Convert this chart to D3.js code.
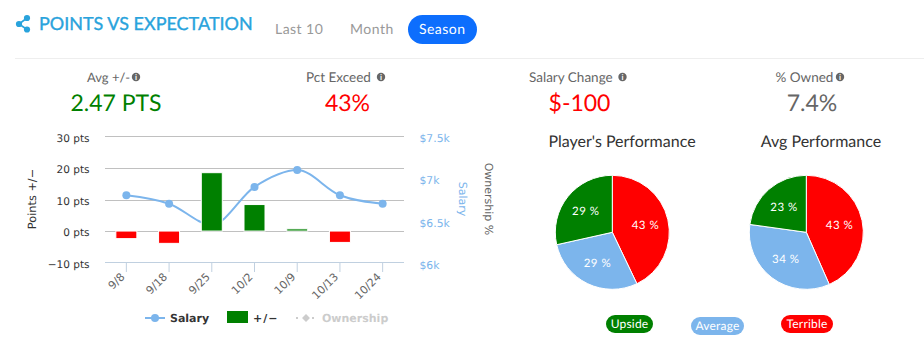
<!DOCTYPE html>
<html><head><meta charset="utf-8">
<script src="https://cdn.jsdelivr.net/npm/d3@7/dist/d3.min.js"></script>
<style>
html,body{margin:0;padding:0;background:#fff}
svg{display:block}
text{font-family:Lato,sans-serif;text-rendering:geometricPrecision}
.hc{font-family:"DejaVu Sans",sans-serif}
</style></head><body><svg id="c" width="924" height="355"></svg>
<script>
const dates = ["9/8","9/18","9/25","10/2","10/9","10/13","10/24"];
const salary = [6800,6700,6450,6900,7100,6800,6700];
const plusMinus = [-2.4,-3.9,18.5,8.4,0.7,-3.6,null];
const ptsTicks = [-10,0,10,20,30];
const salaryTicks = [6000,6500,7000,7500];
const pieCats = ["Terrible","Average","Upside"];
const playerPie = [42.9,28.6,28.5];
const avgPie = [43.4,33.8,22.8];
const pieColors = ["#ff0000","#7cb5ec","#008000"];

const svg = d3.select("#c");
const GREEN="#008000", RED="#ff0000", BLUE="#7cb5ec";

function T(x,y,s,o={}){
  const t=svg.append("text").attr("x",x).attr("y",y).text(s)
    .attr("font-size",o.size||14).attr("fill",o.fill||"#333")
    .attr("text-anchor",o.anchor||"start");
  if(o.ls)t.attr("letter-spacing",o.ls);
  if(o.weight)t.attr("font-weight",o.weight);
  if(o.cls)t.attr("class",o.cls);
  if(o.sw)t.attr("stroke",o.fill).attr("stroke-width",o.sw);
  if(o.rot!==undefined)t.attr("transform",`rotate(${o.rot} ${x} ${y})`);
  return t;
}
// header
const ic=svg.append("g").attr("stroke","#29a3dc").attr("fill","#29a3dc");
[[27,18],[19,24],[27,29.5]].forEach(p=>ic.append("circle").attr("cx",p[0]).attr("cy",p[1]).attr("r",3.1).attr("stroke","none"));
ic.append("path").attr("d","M27 18L19 24L27 29.5").attr("fill","none").attr("stroke-width",1.6);
T(39,30,"POINTS VS EXPECTATION",{size:18,fill:"#29a3dc",weight:400,sw:.35});
T(275,34,"Last 10",{size:14,fill:"#999",ls:.45});
T(350,34,"Month",{size:14,fill:"#999",ls:.5});
svg.append("rect").attr("x",408).attr("y",15).attr("width",69).attr("height",29).attr("rx",14.5).attr("fill","#0d6efd");
T(419,34,"Season",{size:14,fill:"#fff",ls:.45});
svg.append("line").attr("x1",15).attr("x2",924).attr("y1",58.5).attr("y2",58.5).attr("stroke","#eee");

// stats
function info(x,y){
  svg.append("circle").attr("cx",x).attr("cy",y).attr("r",4.2).attr("fill","#666");
  T(x,y+3,"i",{size:8,fill:"#fff",anchor:"middle",weight:700});
}
T(87,82,"Avg +/-",{size:13,fill:"#666"});info(136,77);
T(306,82,"Pct Exceed",{size:13.5,fill:"#666"});info(381,77);
T(529,82,"Salary Change",{size:13.5,fill:"#666"});info(622.5,77);
T(775.5,82,"% Owned",{size:13.5,fill:"#666"});info(840,77);
T(116,111,"2.47 PTS",{size:23,fill:GREEN,anchor:"middle"});
T(347.5,111,"43%",{size:23,fill:RED,anchor:"middle"});
T(579.5,111,"$-100",{size:23,fill:RED,anchor:"middle"});
T(812,111,"7.4%",{size:23,fill:"#666",anchor:"middle"});
T(622,147,"Player's Performance",{size:16,anchor:"middle"});
T(821,147,"Avg Performance",{size:16,anchor:"middle"});

// combo chart
const x=d3.scaleBand().domain(dates).range([105,404]);
const cx=d=>x(d)+x.bandwidth()/2;
const y=d3.scaleLinear().domain([-10,30]).range([262.6,136.4]);
const ys=d3.scaleLinear().domain([6000,7500]).range([262.6,136.4]);
const g=svg.append("g");
ptsTicks.filter(t=>t!==-10).forEach(t=>g.append("line").attr("x1",105).attr("x2",404)
  .attr("y1",Math.round(y(t))+.5).attr("y2",Math.round(y(t))+.5).attr("stroke","#c0c0c0"));
const xa=d3.axisBottom(x).tickSize(10).tickPadding(6);
const ax=svg.append("g").attr("transform","translate(0,262)").call(xa);
ax.select(".domain").attr("stroke","#c0d0e0").attr("d","M105,0.5H404");
ax.selectAll(".tick line").attr("stroke","#c0d0e0");
ax.selectAll(".tick text").attr("class","hc").attr("font-size",11).attr("fill","#666")
  .attr("text-anchor","end").attr("dy",0).attr("y",0)
  .attr("transform","translate(-1,15.5) rotate(-45)");
const ya=d3.axisLeft(y).tickValues(ptsTicks).tickSize(0).tickPadding(0).tickFormat(d=>(d<0?"\u2212"+(-d):d)+" pts");
const ay=svg.append("g").attr("transform","translate(89.5,1.5)").call(ya);
ay.select(".domain").remove();
ay.selectAll("text").attr("class","hc").attr("font-size",10.5).attr("fill","#333");
const yb=d3.axisRight(ys).tickValues(salaryTicks).tickSize(0).tickPadding(0).tickFormat(d=>"$"+(d/1000)+"k");
const ab=svg.append("g").attr("transform","translate(419.5,2)").call(yb);
ab.select(".domain").remove();
ab.selectAll("text").attr("class","hc").attr("font-size",10.8).attr("fill",BLUE);
T(36,199,"Points +/\u2212",{cls:"hc",size:11.3,anchor:"middle",rot:-90});
T(458.5,199,"Salary",{cls:"hc",size:11,fill:BLUE,anchor:"middle",rot:90});
T(484.5,199,"Ownership %",{cls:"hc",size:11,fill:"#666",anchor:"middle",rot:90});

const line=d3.line().x((d,i)=>cx(dates[i])).y(d=>ys(d)).curve(d3.curveMonotoneX);
svg.append("path").attr("d",line(salary)).attr("fill","none").attr("stroke",BLUE).attr("stroke-width",2);
svg.selectAll(".pt").data(salary).enter().append("circle").attr("class","pt")
  .attr("cx",(d,i)=>cx(dates[i])).attr("cy",d=>ys(d)).attr("r",4).attr("fill",BLUE);
svg.selectAll(".bar").data(plusMinus.map((v,i)=>({v,d:dates[i]})).filter(d=>d.v!==null)).enter().append("rect")
  .attr("x",d=>cx(d.d)-10.5).attr("width",21)
  .attr("y",d=>Math.min(y(0),y(d.v))).attr("height",d=>Math.abs(y(d.v)-y(0)))
  .attr("fill",d=>d.v<0?RED:GREEN).attr("stroke","#fff").attr("stroke-width",1);

// chart legend
svg.append("line").attr("x1",145).attr("x2",165).attr("y1",318).attr("y2",318).attr("stroke",BLUE).attr("stroke-width",2);
svg.append("circle").attr("cx",155).attr("cy",318).attr("r",4).attr("fill",BLUE);
T(170,322,"Salary",{cls:"hc",size:11,weight:700,fill:"#333"});
svg.append("rect").attr("x",227).attr("y",311).attr("width",21).attr("height",12).attr("fill",GREEN);
T(253,322,"+/\u2212",{cls:"hc",size:11,weight:700,ls:1});
svg.append("line").attr("x1",296).attr("x2",315).attr("y1",318).attr("y2",318).attr("stroke","#ccc").attr("stroke-width",2).attr("stroke-dasharray","2 6");
svg.append("path").attr("d",d3.symbol(d3.symbolDiamond2,40)).attr("transform","translate(306,318)").attr("fill","#ccc");
T(322,322,"Ownership",{cls:"hc",size:11,weight:700,fill:"#ccc"});

// pies
function pie(cxp,vals){
  const p=d3.pie().sort(null)(vals);
  const a=d3.arc().innerRadius(0).outerRadius(57);
  const la=d3.arc().innerRadius(34).outerRadius(34);
  const gp=svg.append("g").attr("transform",`translate(${cxp},232.3)`);
  gp.selectAll("path").data(p).enter().append("path").attr("d",a)
    .attr("fill",(d,i)=>pieColors[i]).attr("stroke","#fff").attr("stroke-width",1);
  gp.selectAll("text").data(p).enter().append("text")
    .attr("x",d=>la.centroid(d)[0]).attr("y",d=>la.centroid(d)[1]+4)
    .attr("text-anchor","middle").attr("font-size",11.5).attr("letter-spacing",.5)
    .attr("font-weight",400)
    .attr("fill","#fff").text(d=>Math.round(d.value)+" %");
}
pie(612.3,playerPie);
pie(806.3,avgPie);

// pie legend
const pills=[["Upside",606,315,47,GREEN],["Average",691,317,53,BLUE],["Terrible",781,315,52,RED]];
pills.forEach(p=>{
  svg.append("rect").attr("x",p[1]).attr("y",p[2]).attr("width",p[3]).attr("height",18).attr("rx",9).attr("fill",p[4]);
  T(p[1]+p[3]/2,p[2]+13,p[0],{size:12,fill:"#fff",anchor:"middle",ls:.2});
});
</script></body></html>
